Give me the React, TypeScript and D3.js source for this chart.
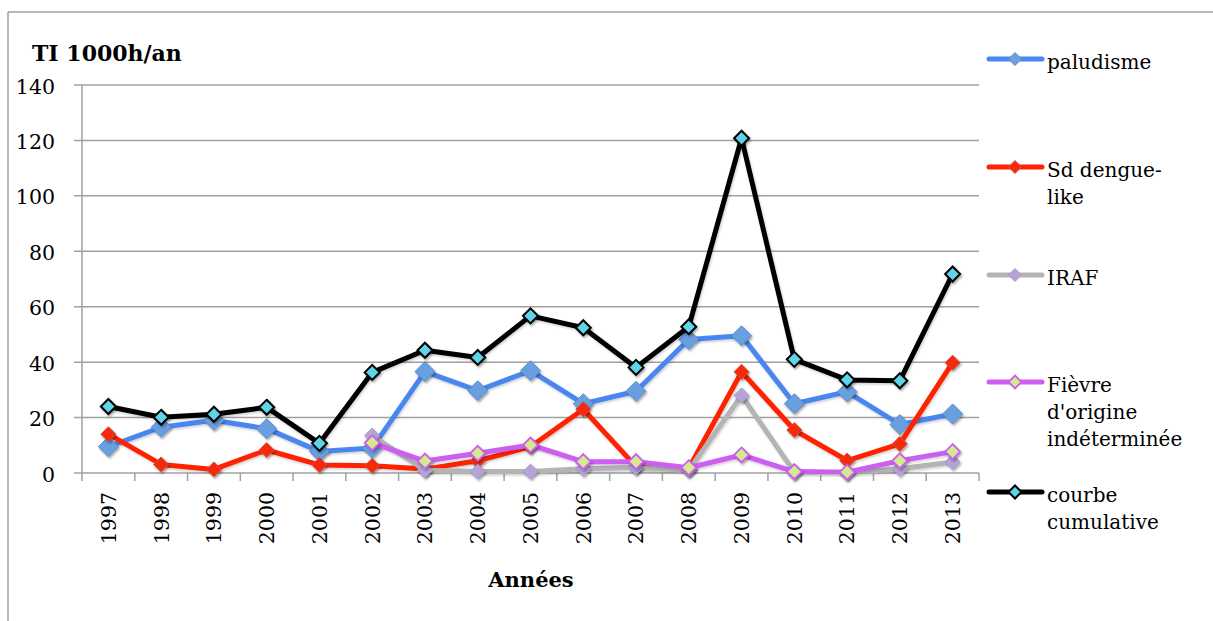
import React from "react";
import * as d3 from "d3";

const years = ["1997","1998","1999","2000","2001","2002","2003","2004","2005","2006","2007","2008","2009","2010","2011","2012","2013"];
const paludisme = [9.5,16.5,19,16,7.8,9,36.6,29.7,36.9,25,29.5,48.2,49.5,25,29.3,17.5,21.3];
const dengue = [14,3.1,1.3,8.3,2.9,2.6,1.4,4.4,9.5,23,2.3,1.7,36.5,15.5,4.5,10.5,39.8];
const iraf: (number|null)[] = [null,null,null,null,null,13.5,1,0.5,0.5,1.5,2,1,28,0.3,0,1.5,4];
const fievre: (number|null)[] = [null,null,null,null,null,10.9,4.3,7.1,10.1,4.1,4.1,1.9,6.5,0.5,0.3,4.4,7.7];
const cumulative = [24,20.1,21.2,23.7,10.7,36.3,44.3,41.7,56.7,52.4,38.1,52.8,120.8,41,33.6,33.3,71.8];
const yTicks = [0,20,40,60,80,100,120,140];

const FONT = "'DejaVu Serif', 'Liberation Serif', serif";

type Series = {
  name: string[];
  values: (number|null)[];
  line: string;
  fill: string;
  stroke: string;
  strokeW: number;
  r: number;
  legendY: number;
};

const series: Series[] = [
  { name: ["paludisme"], values: paludisme, line: "#4a86f0", fill: "#6b9fdf", stroke: "#5b8ccc", strokeW: 1, r: 10, legendY: 59 },
  { name: ["Sd dengue-", "like"], values: dengue, line: "#ff2200", fill: "#f52a0c", stroke: "#d8503c", strokeW: 1, r: 7.5, legendY: 167 },
  { name: ["IRAF"], values: iraf, line: "#b4b4b4", fill: "#b5a4d8", stroke: "#a898c8", strokeW: 1, r: 7.5, legendY: 275 },
  { name: ["Fièvre", "d'origine", "indéterminée"], values: fievre, line: "#cc5ef0", fill: "#d5ea8c", stroke: "#c95ef0", strokeW: 1.8, r: 7.5, legendY: 382 },
  { name: ["courbe", "cumulative"], values: cumulative, line: "#000000", fill: "#5fd3ea", stroke: "#000000", strokeW: 2, r: 7.5, legendY: 492 },
];

export default function App() {
  const W = 1213, H = 621;
  const left = 82, right = 979, top = 85, bottom = 473;
  const x = d3.scaleBand<string>().domain(years).range([left, right]);
  const y = d3.scaleLinear().domain([0, 140]).range([bottom, top]);
  const cx = (yr: string) => (x(yr) as number) + x.bandwidth() / 2;

  const diamond = (px: number, py: number, r: number) =>
    `M${px},${py - r}L${px + r},${py}L${px},${py + r}L${px - r},${py}Z`;

  const lineGen = d3.line<[string, number|null]>()
    .defined(d => d[1] !== null)
    .x(d => cx(d[0]))
    .y(d => y(d[1] as number));

  return (
    <svg width={W} height={H} style={{ position: "absolute", left: 0, top: 0, background: "#fff" }} fontFamily={FONT}>
      <defs>
        <filter id="sh" x="-50%" y="-50%" width="200%" height="200%">
          <feDropShadow dx="1.2" dy="1.8" stdDeviation="1.3" floodColor="#000" floodOpacity="0.35" />
        </filter>
        <filter id="shl" x="-5%" y="-5%" width="110%" height="110%">
          <feDropShadow dx="1" dy="1.5" stdDeviation="1.2" floodColor="#000" floodOpacity="0.2" />
        </filter>
      </defs>
      {/* outer frame */}
      <line x1={8} y1={12} x2={W} y2={12} stroke="#a0a0a0" strokeWidth={1.5} />
      <line x1={8} y1={12} x2={8} y2={H} stroke="#a0a0a0" strokeWidth={1.5} />

      {/* gridlines */}
      {yTicks.map(t => (
        <g key={t}>
          <line x1={left - 8} x2={right} y1={y(t)} y2={y(t)} stroke="#a0a0a0" strokeWidth={1.5} />
          <text x={55} y={y(t) + 8.5} textAnchor="end" fontSize={20.5} fill="#000">{t}</text>
        </g>
      ))}
      {/* y axis */}
      <line x1={left} x2={left} y1={top} y2={bottom} stroke="#a0a0a0" strokeWidth={1.5} />
      {/* x ticks */}
      {years.map(yr => (
        <line key={"t" + yr} x1={x(yr) as number} x2={x(yr) as number} y1={bottom} y2={bottom + 8} stroke="#a0a0a0" strokeWidth={1.5} />
      ))}
      <line x1={right} x2={right} y1={bottom} y2={bottom + 8} stroke="#a0a0a0" strokeWidth={1.5} />
      {/* x labels */}
      {years.map(yr => (
        <text key={"l" + yr} transform={`translate(${cx(yr)},${492}) rotate(-90)`} textAnchor="end" dy="0.36em" fontSize={20.5} fill="#000">{yr}</text>
      ))}

      {/* series */}
      {series.map((s, i) => {
        const pts = years.map((yr, j) => [yr, s.values[j]] as [string, number|null]);
        return (
          <g key={i}>
            <path d={lineGen(pts) || ""} fill="none" stroke={s.line} strokeWidth={5} strokeLinejoin="round" strokeLinecap="round" filter="url(#shl)" />
            {pts.filter(p => p[1] !== null).map(p => (
              <path key={p[0]} d={diamond(cx(p[0]), y(p[1] as number), s.r)} fill={s.fill} stroke={s.stroke} strokeWidth={s.strokeW} filter="url(#sh)" />
            ))}
          </g>
        );
      })}

      {/* legend */}
      {series.map((s, i) => (
        <g key={"lg" + i}>
          <line x1={989} x2={1042} y1={s.legendY} y2={s.legendY} stroke={s.line} strokeWidth={5} strokeLinecap="round" />
          <path d={diamond(1015, s.legendY, 6.5)} fill={s.fill} stroke={s.stroke} strokeWidth={s.strokeW} />
          <text x={1047} y={s.legendY + 10} fontSize={20} fill="#000">
            {s.name.map((n, k) => (
              <tspan key={k} x={1047} dy={k === 0 ? 0 : 27}>{n}</tspan>
            ))}
          </text>
        </g>
      ))}

      {/* titles */}
      <text x={32} y={61} fontSize={22} fontWeight="bold" fill="#000">TI 1000h/an</text>
      <text x={531} y={587} fontSize={21} fontWeight="bold" textAnchor="middle" fill="#000">Années</text>
    </svg>
  );
}
